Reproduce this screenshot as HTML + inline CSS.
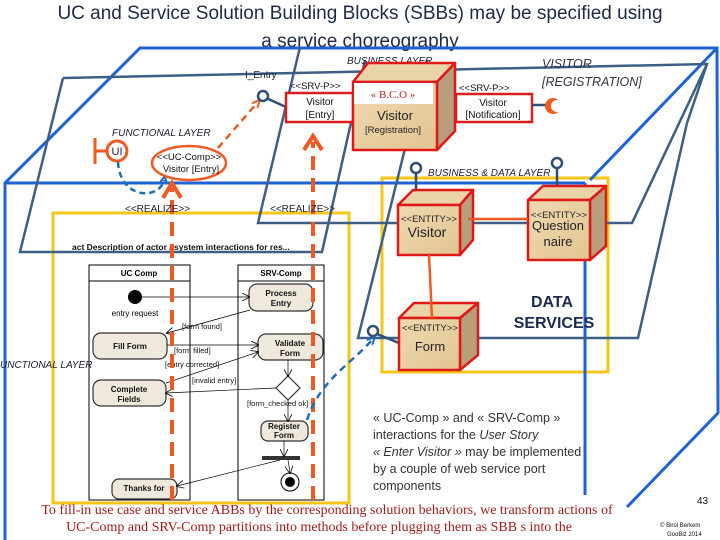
<!DOCTYPE html>
<html><head><meta charset="utf-8"><style>
body{margin:0;background:#fff}
svg{display:block}
text{font-family:"Liberation Sans",sans-serif}
text.serif{font-family:"Liberation Serif",serif}
</style></head><body>
<svg width="720" height="540" viewBox="0 0 720 540" xmlns="http://www.w3.org/2000/svg">
<defs>
<linearGradient id="tan" x1="0" y1="0" x2="1" y2="1"><stop offset="0" stop-color="#efd9b0"/><stop offset="1" stop-color="#e2c592"/></linearGradient>
<marker id="oa" markerWidth="8" markerHeight="8" refX="4" refY="4" orient="auto" markerUnits="userSpaceOnUse"><path d="M0,0 L8,4 L0,8" fill="none" stroke="#f05a22" stroke-width="2"/></marker>
<marker id="ba" markerWidth="8" markerHeight="8" refX="4" refY="4" orient="auto" markerUnits="userSpaceOnUse"><path d="M0,0 L8,4 L0,8" fill="none" stroke="#1f6fb0" stroke-width="2"/></marker>
<marker id="ka" markerWidth="8" markerHeight="8" refX="7" refY="4" orient="auto" markerUnits="userSpaceOnUse"><path d="M0,0 L8,4 L0,8" fill="none" stroke="#000" stroke-width="0.8"/></marker>
</defs>

<text x="360" y="19" font-size="19" text-anchor="middle" fill="#1f2a44">UC and Service Solution Building Blocks (SBBs) may be specified using</text>
<text x="360" y="47" font-size="19" text-anchor="middle" fill="#1f2a44">a service choreography</text>

<rect x="53" y="213" width="296" height="290" fill="none" stroke="#f5c518" stroke-width="3"/>
<rect x="382" y="178" width="226" height="194" fill="none" stroke="#f5c518" stroke-width="3"/>

<text x="72" y="250" font-size="8.5" font-weight="bold" fill="#111">act Description of actor / system interactions for res...</text>
<g stroke="#000" stroke-width="1" fill="none">
<rect x="89" y="265" width="101" height="235"/><line x1="89" y1="281" x2="190" y2="281"/>
<rect x="238" y="265" width="86" height="235"/><line x1="238" y1="281" x2="324" y2="281"/>
</g>
<text x="139" y="276" font-size="8" font-weight="bold" text-anchor="middle">UC Comp</text>
<text x="281" y="276" font-size="8" font-weight="bold" text-anchor="middle">SRV-Comp</text>
<g fill="#efe9dd" stroke="#333" stroke-width="1.2">
<rect x="249" y="284" width="64" height="27" rx="8"/>
<rect x="93" y="333" width="74" height="26" rx="8"/>
<rect x="258" y="334" width="65" height="26" rx="8"/>
<rect x="93" y="380" width="73" height="26" rx="8"/>
<rect x="261" y="421" width="47" height="20" rx="7"/>
<rect x="112" y="479" width="65" height="20" rx="7"/>
<path d="M288,376 L300,388 L288,400 L276,388 Z" fill="#fff"/>
</g>
<g font-size="8" font-weight="bold" text-anchor="middle" fill="#111">
<text x="281" y="296">Process</text><text x="281" y="306">Entry</text>
<text x="130" y="349">Fill Form</text>
<text x="290" y="346">Validate</text><text x="290" y="356">Form</text>
<text x="129" y="392">Complete</text><text x="129" y="402">Fields</text>
<text x="284" y="429">Register</text><text x="284" y="438">Form</text>
<text x="144" y="491">Thanks for</text>
</g>
<circle cx="135" cy="297" r="7" fill="#000"/>
<text x="135" y="316" font-size="8" text-anchor="middle">entry request</text>
<rect x="262" y="456" width="38" height="4" fill="#333"/>
<circle cx="290" cy="482" r="9" fill="#fff" stroke="#000"/><circle cx="290" cy="482" r="5" fill="#000"/>
<g stroke="#000" stroke-width="0.7" fill="none" marker-end="url(#ka)">
<line x1="142" y1="297" x2="249" y2="297"/>
<line x1="250" y1="310" x2="167" y2="333"/>
<line x1="167" y1="345" x2="258" y2="345"/>
<line x1="166" y1="383" x2="258" y2="352"/>
<line x1="276" y1="388" x2="166" y2="393"/>
<line x1="288" y1="400" x2="288" y2="421"/>
<line x1="284" y1="441" x2="284" y2="456"/>
<line x1="288" y1="460" x2="290" y2="473"/>
<line x1="280" y1="460" x2="177" y2="486"/>
<line x1="288" y1="360" x2="288" y2="376"/>
</g>
<g font-size="7.5" fill="#111">
<text x="182" y="329">[form found]</text>
<text x="174" y="353">[form filled]</text>
<text x="165" y="367">[entry corrected]</text>
<text x="192" y="383">[invalid entry]</text>
<text x="247" y="406">[form_checked ok]</text>
</g>

<g stroke="#1d63d6" stroke-width="3" fill="none">
<polyline points="5,540 5,183 140,48 717,48 718,413 627,507"/>
<line x1="5" y1="183" x2="585" y2="183"/>
<line x1="585" y1="183" x2="585" y2="495"/>
<line x1="717" y1="48" x2="590" y2="180"/>
</g>
<g stroke="#3d5f86" stroke-width="2.5" fill="none">
<polyline points="63,78 707,64 632,223 258,223 300,47"/>
<polyline points="63,78 20,252 322,252 365,60"/>
<polyline points="427,60 358,338 638,338 687,123"/>
<line x1="687" y1="123" x2="707" y2="64"/>
</g>

<text x="347" y="64" font-size="10" font-style="italic" fill="#223">BUSINESS  LAYER</text>
<text x="112" y="136" font-size="10" font-style="italic" fill="#223">FUNCTIONAL LAYER</text>
<text x="428" y="176" font-size="10" font-style="italic" fill="#223">BUSINESS &amp; DATA  LAYER</text>
<text x="0" y="368" font-size="10" font-style="italic" fill="#223">UNCTIONAL LAYER</text>
<text x="542" y="68" font-size="12.5" font-style="italic" fill="#334">VISITOR</text>
<text x="542" y="86" font-size="12.5" font-style="italic" fill="#334">[REGISTRATION]</text>
<text x="245" y="78" font-size="10" fill="#223">I_Entry</text>

<g stroke="#f05a22" stroke-width="4" fill="none" stroke-dasharray="14,8">
<line x1="172" y1="500" x2="172" y2="188"/>
<line x1="313" y1="500" x2="313" y2="142"/>
</g>
<path d="M163,198 L172,183 L181,198" fill="none" stroke="#f05a22" stroke-width="4"/>
<path d="M304,150 L313,136 L322,150" fill="none" stroke="#f05a22" stroke-width="4"/>
<text x="125" y="212" font-size="10" fill="#223">&lt;&lt;REALIZE&gt;&gt;</text>
<text x="270" y="212" font-size="10" fill="#223">&lt;&lt;REALIZE&gt;&gt;</text>

<circle cx="117" cy="151" r="10" fill="#fff" stroke="#f05a22" stroke-width="3"/>
<line x1="95" y1="138" x2="95" y2="164" stroke="#f05a22" stroke-width="3"/>
<line x1="95" y1="151" x2="107" y2="151" stroke="#f05a22" stroke-width="3"/>
<text x="117" y="155" font-size="11" text-anchor="middle" fill="#223">UI</text>
<path d="M118,162 C120,200 160,200 164,180" fill="none" stroke="#1f6fb0" stroke-width="2.5" stroke-dasharray="6,4" marker-end="url(#ba)"/>
<ellipse cx="189" cy="163" rx="37" ry="17" fill="#fff" stroke="#f05a22" stroke-width="2.5"/>
<text x="189" y="160" font-size="9.5" text-anchor="middle" fill="#111">&lt;&lt;UC-Comp&gt;&gt;</text>
<text x="191" y="172" font-size="9.5" text-anchor="middle" fill="#111">Visitor [Entry]</text>
<line x1="218" y1="148" x2="257" y2="103" stroke="#f05a22" stroke-width="2.5" stroke-dasharray="7,5" marker-end="url(#oa)"/>

<line x1="266" y1="98" x2="286" y2="107" stroke="#2d4f78" stroke-width="2.5"/>
<circle cx="263" cy="96" r="5" fill="#fff" stroke="#2d4f78" stroke-width="2.5"/>
<text x="290" y="89" font-size="9.5" fill="#111">&lt;&lt;SRV-P&gt;&gt;</text>
<rect x="286" y="93" width="67" height="29" fill="#fff" stroke="#d81e1e" stroke-width="2.5"/>
<text x="320" y="105" font-size="10" text-anchor="middle" fill="#111">Visitor</text>
<text x="320" y="118" font-size="10" text-anchor="middle" fill="#111">[Entry]</text>

<g stroke="#e01818" stroke-width="2.5" stroke-linejoin="round">
<path d="M353,82 L368,63 L455,63 L437,82 Z" fill="#ead3a6"/>
<path d="M437,82 L455,63 L455,131 L437,150 Z" fill="#b89e7a"/>
<rect x="353" y="82" width="84" height="68" fill="url(#tan)"/>
</g>
<rect x="354" y="83" width="79" height="21" fill="#fff"/>
<text x="393" y="98" font-size="11" text-anchor="middle" fill="#b22222" class="serif">« B.C.O »</text>
<text x="395" y="120" font-size="13" text-anchor="middle" fill="#222">Visitor</text>
<text x="393" y="133" font-size="9.5" text-anchor="middle" fill="#222">[Registration]</text>

<text x="459" y="91" font-size="9.5" fill="#111">&lt;&lt;SRV-P&gt;&gt;</text>
<rect x="456" y="94" width="76" height="28" fill="#fff" stroke="#d81e1e" stroke-width="2.5"/>
<text x="493" y="106" font-size="10" text-anchor="middle" fill="#111">Visitor</text>
<text x="493" y="118" font-size="10" text-anchor="middle" fill="#111">[Notification]</text>
<line x1="532" y1="105" x2="548" y2="105" stroke="#2d4f78" stroke-width="2.5"/>
<circle cx="553" cy="106" r="8" fill="#f05a22"/>
<circle cx="557" cy="106" r="6" fill="#fff"/>

<g stroke="#2d4f78" stroke-width="2.5" fill="#fff">
<line x1="416" y1="173" x2="416" y2="192"/><circle cx="416" cy="168" r="5"/>
<line x1="557" y1="168" x2="557" y2="188"/><circle cx="557" cy="163" r="5"/>
<line x1="377" y1="334" x2="399" y2="343"/><circle cx="373" cy="331" r="5"/>
</g>
<path d="M307,420 C320,380 350,365 372,340" fill="none" stroke="#1f6fb0" stroke-width="2.5" stroke-dasharray="7,5" marker-end="url(#ba)"/>

<g stroke="#e01818" stroke-width="2.5" stroke-linejoin="round">
<path d="M398,205 L413,190 L473,190 L460,205 Z" fill="#ead3a6"/>
<path d="M460,205 L473,190 L473,240 L460,255 Z" fill="#b89e7a"/>
<rect x="398" y="205" width="62" height="50" fill="url(#tan)"/>
<path d="M528,200 L543,186 L606,186 L590,200 Z" fill="#ead3a6"/>
<path d="M590,200 L606,186 L606,246 L590,260 Z" fill="#b89e7a"/>
<rect x="528" y="200" width="62" height="60" fill="url(#tan)"/>
<path d="M399,318 L414,303 L478,303 L460,318 Z" fill="#ead3a6"/>
<path d="M460,318 L478,303 L478,355 L460,370 Z" fill="#b89e7a"/>
<rect x="399" y="318" width="61" height="52" fill="url(#tan)"/>
</g>
<line x1="468" y1="219" x2="528" y2="219" stroke="#f05a22" stroke-width="2.5"/>
<line x1="429" y1="255" x2="432" y2="318" stroke="#f05a22" stroke-width="2.5"/>
<text x="429" y="222" font-size="9.5" text-anchor="middle" fill="#222">&lt;&lt;ENTITY&gt;&gt;</text>
<text x="427" y="237" font-size="14" text-anchor="middle" fill="#222">Visitor</text>
<text x="559" y="218" font-size="9.5" text-anchor="middle" fill="#222">&lt;&lt;ENTITY&gt;&gt;</text>
<text x="558" y="230" font-size="13" text-anchor="middle" fill="#222">Question</text>
<text x="558" y="246" font-size="13" text-anchor="middle" fill="#222">naire</text>
<text x="430" y="331" font-size="9.5" text-anchor="middle" fill="#222">&lt;&lt;ENTITY&gt;&gt;</text>
<text x="430" y="351" font-size="13" text-anchor="middle" fill="#222">Form</text>
<text x="552" y="307" font-size="16" font-weight="bold" text-anchor="middle" fill="#1a2a50">DATA</text>
<text x="554" y="328" font-size="16" font-weight="bold" text-anchor="middle" fill="#1a2a50">SERVICES</text>

<g font-size="12.5" fill="#333">
<text x="373" y="422">«  UC-Comp » and « SRV-Comp »</text>
<text x="373" y="439">interactions  for the <tspan font-style="italic">User Story</tspan></text>
<text x="373" y="456"><tspan font-style="italic">« Enter Visitor »</tspan> may be implemented</text>
<text x="373" y="473">by a couple of web service  port</text>
<text x="373" y="490">components</text>
</g>

<text class="serif" x="327" y="514" font-size="14" text-anchor="middle" fill="#a01c1c">To fill-in use case and service ABBs by the corresponding solution behaviors, we transform actions of</text>
<text class="serif" x="319" y="531" font-size="14" text-anchor="middle" fill="#a01c1c">UC-Comp and SRV-Comp partitions into methods before plugging them as SBB s into the</text>
<text x="697" y="504" font-size="10" fill="#111">43</text>
<text x="660" y="527" font-size="6" fill="#111">© Birol Berkem</text>
<text x="667" y="536" font-size="6" fill="#111">GooBiz 2014</text>
</svg>
</body></html>
